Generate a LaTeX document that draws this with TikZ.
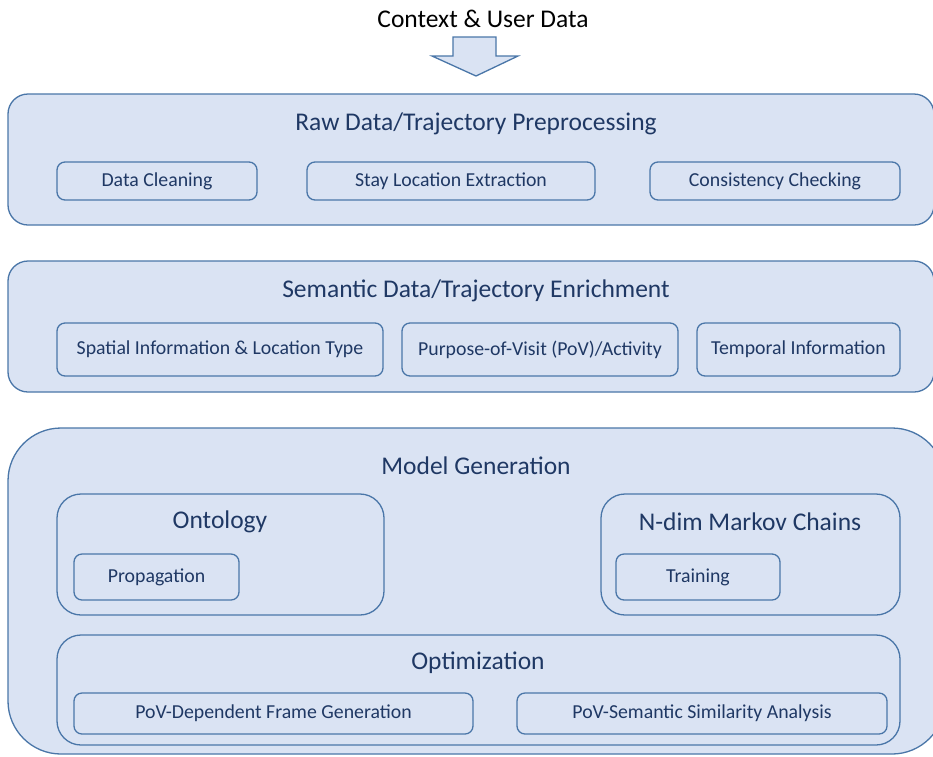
\documentclass[tikz,border=0pt]{standalone}
\usepackage{fontspec}
\setmainfont{Carlito}
\definecolor{panelfill}{HTML}{DAE3F3}
\definecolor{panelline}{HTML}{4A76A8}
\definecolor{labeltext}{HTML}{1F3864}
\tikzset{
  panel/.style={draw=panelline, fill=panelfill, line width=1.3pt, inner sep=0pt},
  bigpanel/.style={panel, rounded corners=20pt},
  grouppanel/.style={panel, rounded corners=24pt},
  item/.style={panel, rounded corners=8pt, text=labeltext, font=\fontsize{19.8}{23}\selectfont},
  heading/.style={text=labeltext, font=\fontsize{25.5}{30}\selectfont, inner sep=0pt},
}
\begin{document}
\begin{tikzpicture}[x=1pt, y=-1pt]
\useasboundingbox (0,0) rectangle (933,756);
\clip (0,0) rectangle (933,756);

% input label and block arrow
\node[font=\fontsize{25.5}{30}\selectfont, inner sep=0pt] (ctx) at (483,19) {Context \& User Data};
\draw[panel] (453,37) -- (496,37) -- (496,56) -- (518,56) -- (476,76)
  -- (432,56) -- (453,56) -- cycle;

% stage 1
\node[bigpanel, minimum width=926pt, minimum height=131pt] (raw) at (471,159.5) {};
\node[heading] (rawt) at (476,124) {Raw Data/Trajectory Preprocessing};
\node[item, minimum width=200pt, minimum height=38pt] (clean) at (157,181) {Data Cleaning};
\node[item, minimum width=288pt, minimum height=38pt] (stay) at (451,181) {Stay Location Extraction};
\node[item, minimum width=250pt, minimum height=38pt] (cons) at (775,181) {Consistency Checking};

% stage 2
\node[bigpanel, minimum width=926pt, minimum height=131pt] (sem) at (471,326.5) {};
\node[heading] (semt) at (476,291) {Semantic Data/Trajectory Enrichment};
\node[item, minimum width=326pt, minimum height=53pt] (spat) at (220,349.5) {Spatial Information \& Location Type};
\node[item, minimum width=276pt, minimum height=53pt] (pov) at (540,349.5) {Purpose-of-Visit (PoV)/Activity};
\node[item, minimum width=203pt, minimum height=53pt] (temp) at (798.5,349.5) {Temporal Information};

% stage 3
\node[panel, rounded corners=53pt, minimum width=937pt, minimum height=326pt] (model) at (476.5,591) {};
\node[heading] (modelt) at (476,466) {Model Generation};

\node[grouppanel, minimum width=327pt, minimum height=121pt] (onto) at (220.5,554.5) {};
\node[heading] (ontot) at (220,522) {Ontology};
\node[item, minimum width=165pt, minimum height=46pt] (prop) at (156.5,577) {Propagation};

\node[grouppanel, minimum width=299pt, minimum height=121pt] (markov) at (750.5,554.5) {};
\node[heading] (markovt) at (750,522) {N-dim Markov Chains};
\node[item, minimum width=164pt, minimum height=46pt] (train) at (698,577) {Training};

\node[grouppanel, minimum width=843pt, minimum height=110pt] (opt) at (478.5,690) {};
\node[heading] (optt) at (478,663) {Optimization};
\node[item, minimum width=399pt, minimum height=41pt] (frame) at (273.5,713.5) {PoV-Dependent Frame Generation};
\node[item, minimum width=370pt, minimum height=41pt] (simil) at (702,713.5) {PoV-Semantic Similarity Analysis};
\end{tikzpicture}
\end{document}
